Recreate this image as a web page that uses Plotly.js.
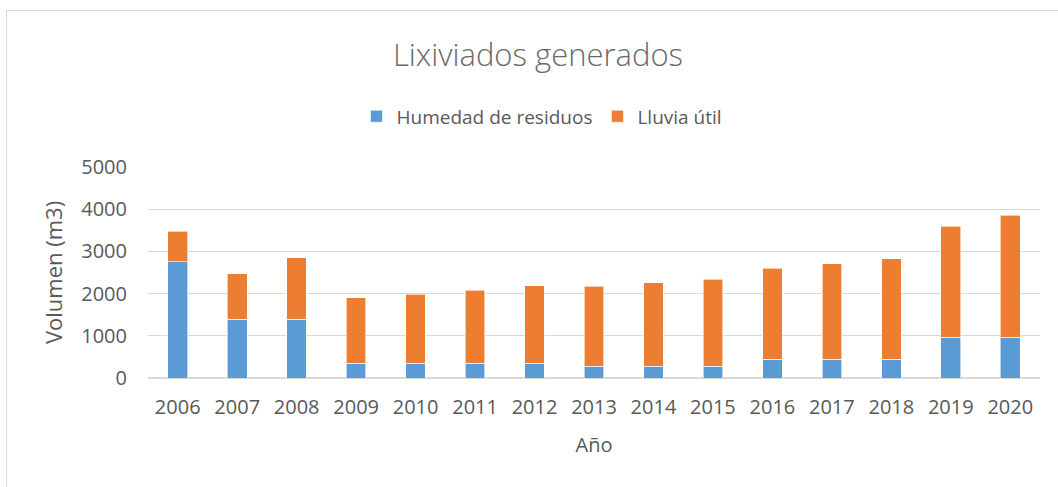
<!DOCTYPE html>
<html>
<head>
<meta charset="utf-8">
<script src="https://cdn.plot.ly/plotly-3.0.1.min.js"></script>
<style>
html,body{margin:0;padding:0;background:#fff;overflow:hidden;}
#chart{position:absolute;left:0;top:0;width:1058px;height:487px;}
#frame{position:absolute;left:6px;top:10px;width:1100px;height:520px;border:1.5px solid #d9d9d9;pointer-events:none;}
</style>
</head>
<body>
<div id="chart"></div>
<div id="frame"></div>
<script>
const years = ["2006","2007","2008","2009","2010","2011","2012","2013","2014","2015","2016","2017","2018","2019","2020"];
const humedad = [2750,1390,1390,355,355,355,355,280,280,280,440,440,440,960,960];
const lluvia = [725,1085,1455,1550,1635,1730,1835,1900,1980,2060,2160,2270,2390,2640,2895];
const yTicks = [0,1000,2000,3000,4000,5000];

const FONT = "Open Sans, Noto Sans, sans-serif";
const GRAY = "#595959";

const traces = [
  {type:"bar", name:"Humedad de residuos", x:years, y:humedad,
   marker:{color:"#5B9BD5", line:{color:"#ffffff", width:0.6}}},
  {type:"bar", name:"Lluvia útil", x:years, y:lluvia,
   marker:{color:"#ED7D31", line:{color:"#ffffff", width:0.6}}}
];

const layout = {
  width:1058, height:487,
  barmode:"stack", bargap:0.67,
  paper_bgcolor:"rgba(0,0,0,0)", plot_bgcolor:"#fff",
  margin:{l:148, r:18, t:167, b:109, pad:0, autoexpand:false},
  font:{family:FONT, color:GRAY},
  title:{text:"Lixiviados generados", x:0.5085, xanchor:"center", xref:"container",
         y:0.887, yanchor:"middle", yref:"container",
         font:{size:31, color:"#6a6a6a", family:FONT, weight:300}},
  showlegend:true,
  legend:{orientation:"h", x:0.4417, xanchor:"center", y:1.24, yanchor:"middle",
          font:{size:19, color:GRAY, family:FONT}, traceorder:"normal",
          itemwidth:30, itemclick:false},
  xaxis:{type:"category", showgrid:false, showline:false, zeroline:false,
         ticks:"", tickangle:0, tickfont:{size:20, color:GRAY, family:FONT},
         ticklabelstandoff:15,
         title:{text:"Año", font:{size:20, color:GRAY, family:FONT}, standoff:18}},
  yaxis:{range:[0,5000], tickvals:yTicks, ticktext:yTicks.map(String),
         showgrid:true, gridcolor:"#d9d9d9", gridwidth:1.3,
         zeroline:true, zerolinecolor:"#d9d9d9", zerolinewidth:1.3,
         showline:false, ticks:"", ticklabelstandoff:20,
         tickfont:{size:20, color:GRAY, family:FONT},
         title:{text:"Volumen (m3)", font:{size:22, color:GRAY, family:FONT}, standoff:12}}
};

Plotly.newPlot("chart", traces, layout, {displayModeBar:false, staticPlot:true});
</script>
</body>
</html>
